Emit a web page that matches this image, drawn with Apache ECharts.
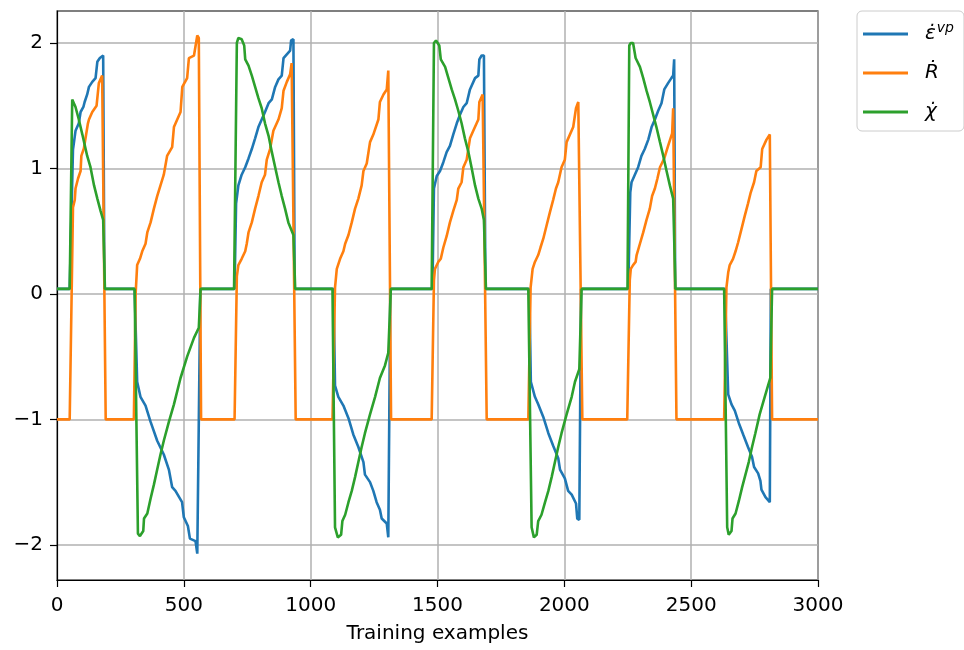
<!DOCTYPE html>
<html>
<head>
<meta charset="utf-8">
<script src="https://cdn.jsdelivr.net/npm/echarts@6/dist/echarts.min.js"></script>
<style>html,body{margin:0;padding:0;background:#fff}#c{width:964px;height:650px}</style>
</head>
<body>
<div id="c"></div>
<script>
const seriesNames = ['eps', 'R', 'chi'];
const xTicks = [0, 500, 1000, 1500, 2000, 2500, 3000];
const yTicks = [-2, -1, 0, 1, 2];
const xLabel = 'Training examples';

const epsVp = [
[0,0.04],[50,0.04],[63,1.15],[67,1.21],[73,1.30],[86,1.36],[93,1.45],[104,1.49],[109,1.53],[119,1.59],[126,1.65],[139,1.69],[152,1.72],[159,1.85],[169,1.88],[182,1.90],[187,0.04],
[306,0.04],[316,-0.70],[329,-0.82],[349,-0.89],[369,-1.02],[395,-1.17],[421,-1.28],[441,-1.40],[454,-1.54],[467,-1.57],[493,-1.66],[500,-1.78],[516,-1.85],[524,-1.95],[546,-1.97],[553,-2.07],[559,-2.07],[565,0.04],
[700,0.04],[706,0.72],[715,0.865],[728,0.95],[742,1.01],[755,1.08],[768,1.155],[781,1.24],[794,1.33],[807,1.39],[820,1.45],[834,1.52],[847,1.55],[860,1.65],[873,1.71],[886,1.74],[893,1.88],[906,1.91],[919,1.94],[923,2.02],[932,2.03],[937,0.04],
[1090,0.04],[1096,-0.73],[1109,-0.82],[1129,-0.89],[1149,-0.99],[1168,-1.12],[1188,-1.22],[1208,-1.34],[1214,-1.44],[1234,-1.50],[1247,-1.57],[1260,-1.66],[1273,-1.72],[1280,-1.79],[1300,-1.83],[1306,-1.94],[1309,-1.94],[1314,0.04],
[1480,0.04],[1486,0.84],[1497,0.94],[1510,0.98],[1523,1.05],[1536,1.13],[1549,1.18],[1562,1.27],[1576,1.36],[1589,1.43],[1602,1.49],[1615,1.52],[1628,1.63],[1648,1.72],[1661,1.74],[1665,1.87],[1674,1.90],[1683,1.90],[1689,0.04],
[1862,0.04],[1868,-0.70],[1884,-0.82],[1897,-0.88],[1917,-0.98],[1937,-1.11],[1956,-1.21],[1976,-1.31],[1983,-1.40],[2002,-1.47],[2015,-1.57],[2029,-1.60],[2046,-1.67],[2051,-1.79],[2059,-1.80],[2066,0.04],
[2252,0.04],[2260,0.81],[2265,0.89],[2278,0.95],[2291,1.01],[2304,1.10],[2317,1.155],[2331,1.23],[2344,1.33],[2357,1.39],[2370,1.46],[2383,1.52],[2394,1.63],[2409,1.68],[2422,1.72],[2429,1.74],[2433,1.87],[2437,0.04],
[2633,0.04],[2646,-0.80],[2659,-0.88],[2672,-0.93],[2688,-1.03],[2705,-1.12],[2724,-1.22],[2740,-1.30],[2748,-1.38],[2764,-1.43],[2773,-1.49],[2777,-1.56],[2793,-1.62],[2810,-1.66],[2814,0.04],[3000,0.04]
];

const rDot = [
[0,-1],[50,-1],[63,0.69],[70,0.75],[73,0.84],[83,0.92],[93,0.98],[96,1.10],[106,1.16],[122,1.36],[126,1.39],[139,1.45],[156,1.50],[165,1.68],[178,1.74],[182,1.74],[192,-1],
[303,-1],[310,0.0],[316,0.23],[327,0.28],[336,0.34],[349,0.40],[356,0.49],[369,0.57],[382,0.68],[395,0.78],[408,0.865],[421,0.95],[434,1.10],[454,1.17],[461,1.33],[487,1.45],[494,1.65],[513,1.72],[520,1.88],[540,1.90],[553,2.06],[559,2.04],[568,-1],
[700,-1],[709,0.14],[715,0.23],[728,0.28],[742,0.34],[748,0.40],[755,0.49],[768,0.57],[781,0.68],[794,0.78],[807,0.89],[820,0.95],[827,1.07],[840,1.155],[853,1.30],[873,1.39],[886,1.48],[893,1.62],[906,1.69],[919,1.75],[925,1.84],[929,1.84],[941,-1],
[1086,-1],[1096,0.05],[1103,0.20],[1116,0.28],[1129,0.34],[1136,0.40],[1149,0.47],[1162,0.57],[1175,0.68],[1188,0.76],[1201,0.865],[1208,0.98],[1221,1.04],[1234,1.21],[1247,1.27],[1267,1.39],[1273,1.53],[1287,1.59],[1300,1.63],[1306,1.78],[1309,1.78],[1317,-1],
[1477,-1],[1486,0.11],[1490,0.20],[1503,0.255],[1513,0.28],[1523,0.37],[1536,0.46],[1549,0.57],[1562,0.66],[1576,0.75],[1582,0.84],[1595,0.89],[1602,1.01],[1615,1.07],[1628,1.24],[1641,1.30],[1661,1.39],[1665,1.53],[1678,1.59],[1683,1.59],[1694,-1],
[1858,-1],[1867,0.05],[1875,0.20],[1884,0.255],[1897,0.31],[1906,0.37],[1917,0.44],[1930,0.545],[1943,0.65],[1956,0.75],[1967,0.84],[1976,0.89],[1989,1.01],[2002,1.07],[2009,1.21],[2035,1.33],[2046,1.48],[2055,1.53],[2061,1.53],[2071,-1],
[2248,-1],[2258,0.11],[2262,0.20],[2271,0.23],[2281,0.255],[2285,0.31],[2298,0.40],[2311,0.49],[2324,0.59],[2337,0.68],[2346,0.78],[2357,0.84],[2367,0.92],[2377,1.01],[2394,1.08],[2409,1.18],[2425,1.28],[2429,1.48],[2433,1.48],[2442,-1],
[2630,-1],[2639,0.05],[2646,0.17],[2652,0.23],[2665,0.28],[2675,0.34],[2685,0.41],[2698,0.515],[2711,0.62],[2724,0.72],[2735,0.81],[2748,0.89],[2757,0.98],[2774,1.01],[2780,1.155],[2797,1.23],[2810,1.27],[2819,-1],[3000,-1]
];

const chiDot = [
[0,0.04],[50,0.04],[60,1.55],[67,1.56],[73,1.49],[86,1.39],[100,1.27],[119,1.10],[132,1.01],[146,0.865],[159,0.76],[172,0.66],[182,0.59],[189,0.04],
[306,0.04],[319,-1.91],[327,-1.93],[340,-1.89],[343,-1.79],[356,-1.75],[369,-1.63],[382,-1.52],[395,-1.40],[408,-1.28],[421,-1.17],[441,-1.02],[461,-0.88],[487,-0.67],[513,-0.50],[540,-0.35],[559,-0.27],[566,0.04],
[698,0.04],[709,2.0],[715,2.04],[728,2.03],[738,1.98],[742,1.87],[755,1.82],[768,1.74],[781,1.65],[794,1.56],[807,1.48],[820,1.36],[834,1.26],[847,1.13],[860,1.01],[873,0.89],[886,0.78],[899,0.68],[912,0.57],[932,0.47],[939,0.04],
[1086,0.04],[1096,-1.86],[1107,-1.94],[1120,-1.92],[1125,-1.81],[1136,-1.76],[1149,-1.66],[1162,-1.57],[1175,-1.46],[1188,-1.34],[1201,-1.22],[1214,-1.11],[1234,-0.96],[1254,-0.82],[1273,-0.67],[1293,-0.57],[1306,-0.47],[1316,0.04],
[1477,0.04],[1486,2.0],[1494,2.02],[1507,1.98],[1513,1.87],[1530,1.81],[1543,1.72],[1556,1.63],[1569,1.55],[1582,1.46],[1595,1.36],[1608,1.24],[1622,1.13],[1635,1.00],[1648,0.865],[1661,0.76],[1674,0.68],[1683,0.59],[1691,0.04],
[1858,0.04],[1871,-1.86],[1880,-1.94],[1891,-1.92],[1897,-1.81],[1910,-1.76],[1924,-1.66],[1937,-1.57],[1950,-1.46],[1963,-1.34],[1976,-1.22],[1989,-1.11],[2009,-0.96],[2029,-0.82],[2042,-0.70],[2059,-0.60],[2068,0.04],
[2249,0.04],[2256,1.98],[2262,2.0],[2271,2.0],[2281,1.88],[2298,1.81],[2311,1.72],[2324,1.62],[2337,1.53],[2350,1.43],[2363,1.33],[2377,1.21],[2390,1.10],[2403,0.98],[2416,0.865],[2429,0.76],[2438,0.04],
[2630,0.04],[2642,-1.86],[2648,-1.92],[2659,-1.89],[2663,-1.79],[2675,-1.75],[2688,-1.65],[2701,-1.54],[2714,-1.44],[2727,-1.34],[2740,-1.22],[2753,-1.11],[2770,-0.96],[2790,-0.82],[2803,-0.73],[2812,-0.67],[2819,0.04],[3000,0.04]
];

const colors = ['#1f77b4', '#ff7f0e', '#2ca02c'];
const FONT = 'DejaVu Sans';
const legendText = {
  eps: '{gap|}{it|\u03B5\u0307}{sup|vp}',
  R: '{gap|}{it|\u1E58}',
  chi: '{gap|}{it|\u03C7\u0307}'
};
const fmt = v => String(v).replace('-', '\u2212');

const chart = echarts.init(document.getElementById('c'), null, {renderer: 'canvas'});
chart.setOption({
  animation: false,
  backgroundColor: '#ffffff',
  color: colors,
  grid: {left: 57, right: 146, top: 11, bottom: 70, show: true, borderColor: '#000', borderWidth: 1.2, backgroundColor: 'transparent'},
  legend: {
    orient: 'vertical', left: 857, top: 11,
    padding: [10, 10, 6, 6],
    itemGap: 13, itemWidth: 45, itemHeight: 3, icon: 'rect',
    backgroundColor: 'rgba(255,255,255,0.8)', borderColor: '#cccccc', borderWidth: 1, borderRadius: 5,
    formatter: name => legendText[name],
    textStyle: {
      color: '#000', fontFamily: FONT, lineHeight: 26,
      rich: {
        gap: {width: 12, lineHeight: 26},
        it: {fontFamily: FONT, fontStyle: 'italic', fontSize: 20, lineHeight: 26, color: '#000'},
        sup: {fontFamily: FONT, fontStyle: 'italic', fontSize: 14, lineHeight: 14, verticalAlign: 'top', padding: [0, 0, 0, 1], color: '#000'}
      }
    },
    data: seriesNames
  },
  xAxis: {
    type: 'value', min: 0, max: 3000, interval: 500,
    name: xLabel, nameLocation: 'middle', nameGap: 44,
    nameTextStyle: {fontFamily: FONT, fontSize: 20, color: '#000'},
    axisLine: {show: true, onZero: false, lineStyle: {color: '#000', width: 1.2}},
    axisTick: {show: true, inside: false, length: 7, lineStyle: {color: '#000', width: 1.2}, customValues: xTicks},
    axisLabel: {fontFamily: FONT, fontSize: 20, color: '#000', margin: 16, formatter: fmt, customValues: xTicks},
    splitLine: {show: true, lineStyle: {color: '#b0b0b0', width: 1.5}}
  },
  yAxis: {
    type: 'value', min: -2.28, max: 2.255,
    axisLine: {show: true, onZero: false, lineStyle: {color: '#000', width: 1.2}},
    axisTick: {show: true, inside: false, length: 7, lineStyle: {color: '#000', width: 1.2}, customValues: yTicks},
    axisLabel: {fontFamily: FONT, fontSize: 20, color: '#000', margin: 14, formatter: fmt, customValues: yTicks},
    splitLine: {show: true, lineStyle: {color: '#b0b0b0', width: 1.5}}
  },
  series: [
    {name: 'eps', type: 'line', data: epsVp, showSymbol: false, lineStyle: {width: 2.6, color: colors[0]}, itemStyle: {color: colors[0]}, z: 2},
    {name: 'R', type: 'line', data: rDot, showSymbol: false, lineStyle: {width: 2.6, color: colors[1]}, itemStyle: {color: colors[1]}, z: 3},
    {name: 'chi', type: 'line', data: chiDot, showSymbol: false, lineStyle: {width: 2.6, color: colors[2]}, itemStyle: {color: colors[2]}, z: 4}
  ]
});
</script>
</body>
</html>
